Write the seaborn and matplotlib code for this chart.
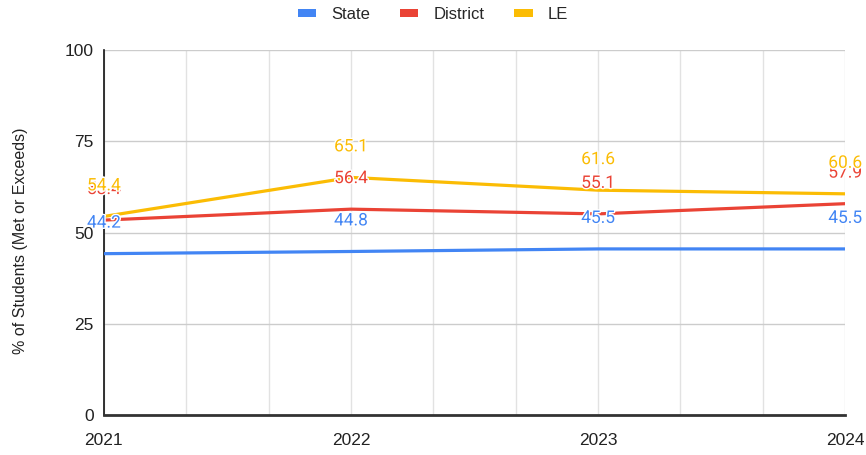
import matplotlib
matplotlib.use("Agg")
import matplotlib.pyplot as plt
import matplotlib.patheffects as pe
import seaborn as sns
import pandas as pd
import numpy as np
from matplotlib.patches import Patch

# values
years = [2021, 2022, 2023, 2024]
state = [44.2, 44.8, 45.5, 45.5]
district = [53.4, 56.4, 55.1, 57.9]
le = [54.4, 65.1, 61.6, 60.6]

series = ["State", "District", "LE"]
colors = {"State": "#4285F4", "District": "#EA4335", "LE": "#FBBC04"}

df = pd.DataFrame({
    "year": years * 3,
    "value": state + district + le,
    "series": ["State"] * 4 + ["District"] * 4 + ["LE"] * 4,
})

sns.set_style("white")
plt.rcParams["font.family"] = ["Liberation Sans", "DejaVu Sans"]

fig = plt.figure(figsize=(8.66, 4.55), dpi=100)
ax = fig.add_axes([0.120, 0.088, 0.856, 0.802])

sns.lineplot(data=df, x="year", y="value", hue="series", hue_order=series,
             palette=colors, linewidth=2.3, ax=ax, legend=False, zorder=3)

ax.set_xlim(2021, 2024)
ax.set_ylim(0, 100)
ax.set_xticks(years)
ax.set_xticklabels([str(y) for y in years])
ax.set_xticks(np.arange(2021, 2024.01, 1 / 3), minor=True)
ax.set_yticks([0, 25, 50, 75, 100])

ax.grid(True, which="minor", axis="x", color="#e2e2e2", linewidth=1, zorder=0)
ax.grid(True, which="major", axis="x", color="#e2e2e2", linewidth=1, zorder=0)
ax.grid(True, which="major", axis="y", color="#cccccc", linewidth=1, zorder=0)

ax.tick_params(axis="x", which="major", direction="inout", length=12.5, width=1.1,
               color="#222222", labelsize=12.5, labelcolor="#222222", pad=7)
ax.tick_params(axis="x", which="minor", length=0)
ax.tick_params(axis="y", direction="inout", length=14, width=1.1,
               color="#222222", labelsize=12.5, labelcolor="#222222", pad=0.5)

for s in ["top", "right"]:
    ax.spines[s].set_visible(False)
ax.spines["left"].set_color("#111111")
ax.spines["left"].set_linewidth(1.2)
ax.spines["bottom"].set_color("#333333")
ax.spines["bottom"].set_linewidth(2)
ax.spines["bottom"].set_zorder(4)

ax.set_xlabel("")
ax.set_ylabel("% of Students (Met or Exceeds)", fontsize=11.5, color="#222222")
ax.yaxis.set_label_coords(-0.103, 0.477)

# data labels above each point
halo = [pe.withStroke(linewidth=2, foreground="white")]
for name, vals in [("State", state), ("District", district), ("LE", le)]:
    for x, v in zip(years, vals):
        ax.annotate(f"{v:.1f}", (x, v), xytext=(0, 22), textcoords="offset points",
                    ha="center", va="center", fontsize=12.5, color=colors[name],
                    family=["Roboto", "DejaVu Sans"], annotation_clip=False,
                    path_effects=halo, zorder=5)

handles = [Patch(facecolor=colors[s], edgecolor="none") for s in series]
fig.legend(handles, series, loc="center", bbox_to_anchor=(0.5, 0.968), ncol=3,
           frameon=False, fontsize=12, handlelength=1.1, handleheight=0.4,
           handletextpad=0.9, columnspacing=1.8)

fig.savefig("out.png", dpi=100)
